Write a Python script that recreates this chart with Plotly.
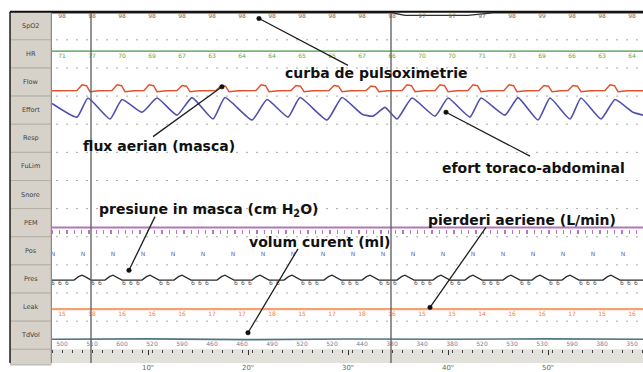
import plotly.graph_objects as go

W, H = 643, 372
X0PX = 52.0            # left edge of the trace panel (px)
TOP, ROWH = 12.0, 28.83  # first row top and row height (px)

# ---------------- data ----------------
channels = ["SpO2", "HR", "Flow", "Effort", "Resp", "FuLim", "Snore",
            "PEM", "Pos", "Pres", "Leak", "TdVol"]

# times (s) of the numeric read-outs printed under the traces
num_t = [1.4, 4.4, 7.4, 10.4, 13.4, 16.4, 19.4, 22.4, 25.4, 28.4,
         31.4, 34.4, 37.4, 40.4, 43.4, 46.4, 49.4, 52.4, 55.4, 58.4]
spo2_num = [98, 98, 98, 98, 98, 98, 98, 98, 98, 98,
            98, 98, 97, 97, 97, 98, 99, 98, 98, 98]
hr_num = [71, 77, 70, 69, 67, 63, 64, 64, 65, 65,
          67, 66, 70, 70, 71, 73, 69, 66, 63, 64]
leak_num = [15, 18, 16, 16, 16, 17, 17, 18, 15, 17,
            18, 16, 15, 15, 14, 16, 16, 17, 15, 16]
tdvol_num = [500, 510, 600, 520, 590, 460, 460, 490, 520, 520,
             440, 380, 340, 380, 520, 530, 530, 590, 380, 350]

pos_t = [0.5, 3.5, 6.5, 9.5, 12.5, 15.5, 18.5, 21.5, 24.5, 27.5,
         30.5, 33.5, 36.5, 39.5, 42.5, 45.5, 48.5, 51.5, 54.5, 57.5]
pos_code = ["N"] * len(pos_t)

spo2_t = [0.4, 34.4, 35.7, 42.0, 43.2, 44.5, 59.5]
spo2_v = [98, 98, 97, 97, 97.5, 98, 98]

hr_t = [0.4, 8.0, 8.4, 30.0, 59.5]
hr_v = [70.4, 70.4, 70.0, 70.0, 70.3]

# airflow: time and amplitude (L/s) of each inspiratory bump
flow_peak_t = [3.5, 7.0, 10.2, 13.5, 17.4, 21.4, 24.9, 28.7,
               32.4, 36.0, 39.3, 42.6, 46.2, 49.7, 52.6, 56.3]
flow_peak_v = [0.5, 0.5, 0.5, 0.45, 0.45, 0.5, 0.45, 0.45,
               0.4, 0.5, 0.5, 0.5, 0.5, 0.45, 0.45, 0.5]

# thoraco-abdominal effort turning points (a.u.)
effort_t = [0.4, 2.9, 4.0, 6.2, 7.4, 9.4, 10.9, 12.9, 14.4, 16.5,
            17.7, 20.4, 21.9, 24.0, 25.2, 27.9, 29.4, 31.4, 32.5, 33.7,
            34.9, 36.4, 38.7, 40.0, 42.2, 43.3, 45.7, 47.0, 49.0, 50.2,
            52.2, 53.3, 55.3, 56.7, 58.5, 59.5]
effort_v = [0.6, -0.8, 1.15, -1.0, 1.0, -0.3, 1.15, -0.6, 1.2, -1.0,
            1.2, -1.1, 1.0, -0.8, 1.2, -1.1, 1.2, -0.5, -0.7, 0.2,
            -1.0, 1.15, -0.7, 1.15, -0.8, 1.15, -0.6, 1.2, -1.1, 1.15,
            -1.0, 1.15, -1.0, 1.0, -0.3, -0.6]

pem_t = [0.4, 59.5]
pem_v = [0.33, 0.33]

# mask pressure (cmH2O): EPAP baseline and IPAP bump times
pres_base = 6.0
pres_top = 7.0
pres_peak_t = [3.4, 6.5, 10.2, 13.4, 17.7, 21.2, 24.4, 28.4,
               32.2, 35.7, 39.3, 42.5, 46.3, 49.2, 52.2, 56.3]

leak_t = [0.4, 59.5]
leak_v = [16, 16]

tdvol_t = [0.4, 10.0, 20.0, 30.0, 40.0, 50.0, 59.5]
tdvol_v = [500, 520, 480, 510, 500, 520, 500]

time_ticks = [10, 20, 30, 40, 50]
time_labels = ['10"', '20"', '30"', '40"', '50"']
epoch_t = [4.3, 34.3]

notes = ["curba de pulsoximetrie", "flux aerian (masca)", "efort toraco-abdominal",
         "presiune in masca (cm H<sub>2</sub>O)", "volum curent (ml)",
         "pierderi aeriene (L/min)"]

# ---------------- helpers ----------------
def px(x):
    return x / W


def py(y):
    return 1 - y / H


def ydom(i):
    t = TOP + ROWH * i
    return [py(t + ROWH), py(t)]


row_ranges = [[87.6, 98.4], [0, 118], [-0.458, 1.94], [-1.53, 1.35],
              [0, 1], [0, 1], [0, 1], [0, 1], [0, 1],
              [3.34, 9.1], [7.5, 27.5], [0, 1400]]

# build waveform vertex tables from the read breath timings
flow_x, flow_y = [0.4], [0.0]
for tp, a in zip(flow_peak_t, flow_peak_v):
    flow_x += [tp - 0.6, tp - 0.1, tp + 0.35, tp + 0.7, tp + 1.6]
    flow_y += [0.02, a, 0.85 * a, -0.08, 0.0]
flow_x.append(59.5)
flow_y.append(0.0)

pres_x, pres_y = [0.4], [pres_base]
d = pres_top - pres_base
for tp in pres_peak_t:
    pres_x += [tp - 0.8, tp - 0.35, tp, tp + 0.4, tp + 0.9]
    pres_y += [pres_base, pres_base + 0.7 * d, pres_top, pres_base + 0.6 * d, pres_base]
pres_x.append(59.5)
pres_y.append(pres_base)

pres_lab_t = []
bounds = [-0.6] + pres_peak_t + [60.0]
for a, b in zip(bounds[:-1], bounds[1:]):
    for off in (1.1, 1.8, 2.5):
        if a + off < b - 0.8:
            pres_lab_t.append(a + off)

fig = go.Figure()

FONT = "DejaVu Sans"


def yname(i):
    return "y" if i == 0 else "y%d" % (i + 1)


def line(x, y, row, color, width, xa="x", shape="linear"):
    fig.add_trace(go.Scatter(x=x, y=y, mode="lines", xaxis=xa, yaxis=yname(row),
                             line=dict(color=color, width=width, shape=shape,
                                       smoothing=0.45 if shape == "spline" else None),
                             hoverinfo="skip", showlegend=False))


def texts(x, y, t, row, color, size=6):
    fig.add_trace(go.Scatter(x=x, y=y, mode="text", text=t, xaxis="x", yaxis=yname(row),
                             textfont=dict(family=FONT, size=size, color=color),
                             cliponaxis=False, hoverinfo="skip", showlegend=False))


line(spo2_t, spo2_v, 0, "#2e2e2e", 1.3)
texts(num_t, [96.5] * len(num_t), [str(v) for v in spo2_num], 0, "#6e6e6e")
line(hr_t, hr_v, 1, "#3f9a3f", 1.3)
texts(num_t, [47.6] * len(num_t), [str(v) for v in hr_num], 1, "#5aa85a")
line(flow_x, flow_y, 2, "#e2502c", 1.4)
line(effort_t, effort_v, 3, "#4e50b0", 1.6, shape="spline")
line(pem_t, pem_v, 7, "#b476bc", 2.2, xa="x2")
texts(pos_t, [0.364] * len(pos_t), pos_code, 8, "#5a68c4")
line(pres_x, pres_y, 9, "#2a2a2a", 1.3)
texts(pres_lab_t, [5.25] * len(pres_lab_t), ["6"] * len(pres_lab_t), 9, "#4a4a4a", 6)
line(leak_t, leak_v, 10, "#f2a274", 2.2)
texts(num_t, [12.5] * len(num_t), [str(v) for v in leak_num], 10, "#f07a5a")
line(tdvol_t, tdvol_v, 11, "#4f7486", 1.6)
texts(num_t, [243] * len(num_t), [str(v) for v in tdvol_num], 11, "#6a86a6")

layout = dict(
    width=W, height=H, autosize=False,
    margin=dict(l=0, r=0, t=0, b=0),
    paper_bgcolor="white", plot_bgcolor="white",
    showlegend=False,
    xaxis=dict(domain=[px(X0PX), 1], range=[0.4, 59.5], anchor="y12",
               showgrid=False, zeroline=False, showline=False,
               ticks="outside", ticklen=5, tickwidth=1, tickcolor="#333",
               tickvals=time_ticks, ticktext=time_labels, ticklabelstandoff=6,
               tickfont=dict(family=FONT, size=7, color="#666"),
               minor=dict(dtick=1, tick0=0.4, ticks="outside", ticklen=3,
                          tickcolor="#444", showgrid=False),
               fixedrange=True),
    xaxis2=dict(domain=[px(X0PX), 1], matches="x", anchor="free",
                position=py(234.3), side="bottom", showgrid=False, zeroline=False,
                showline=False, ticks="outside", ticklen=4, tickwidth=1.3,
                tickcolor="#b476bc", dtick=0.73, tick0=0.45, showticklabels=False,
                fixedrange=True),
)
for i in range(12):
    key = "yaxis" if i == 0 else "yaxis%d" % (i + 1)
    layout[key] = dict(domain=ydom(i), range=row_ranges[i], anchor="x",
                       showgrid=False, zeroline=False, showline=False,
                       showticklabels=False, ticks="", fixedrange=True)
fig.update_layout(**layout)

shapes = []
# bottom time band
shapes.append(dict(type="rect", xref="paper", yref="paper", x0=px(X0PX), x1=1,
                   y0=0, y1=py(358), fillcolor="#e3e1dc", line=dict(width=0), layer="below"))
# dotted row separators
for i in range(1, 12):
    yy = py(TOP + ROWH * i)
    shapes.append(dict(type="line", xref="paper", yref="paper", x0=px(X0PX + 4), x1=1,
                       y0=yy, y1=yy, line=dict(color="#a9a9a9", width=1, dash="2px,8px"),
                       layer="below"))
# label column cells
for i in range(13):
    t = TOP + ROWH * i
    b = min(t + ROWH, H + 2)
    shapes.append(dict(type="rect", xref="paper", yref="paper", x0=px(10.5), x1=px(51),
                       y0=py(b), y1=py(t), fillcolor="#d6d2ca",
                       line=dict(color="#b3afa7", width=1), layer="below"))
# panel edge
shapes.append(dict(type="line", xref="paper", yref="paper", x0=px(51.5), x1=px(51.5),
                   y0=0, y1=py(TOP), line=dict(color="#8a8a8a", width=1)))
# epoch markers
for e in epoch_t:
    shapes.append(dict(type="line", xref="x", yref="paper", x0=e, x1=e, y0=0, y1=py(TOP),
                       line=dict(color="#5a5a5a", width=1.3), layer="above"))
# outer black border
shapes.append(dict(type="line", xref="paper", yref="paper", x0=px(10), x1=1,
                   y0=py(TOP), y1=py(TOP), line=dict(color="#111", width=2)))
shapes.append(dict(type="line", xref="paper", yref="paper", x0=px(10), x1=px(10),
                   y0=0, y1=py(TOP), line=dict(color="#222", width=1.5)))

# callout pointers: line from label to a dot on the trace
arrows = [((348, 67), (259, 19)), ((153, 140), (222, 89)), ((530, 160), (446, 115)),
          ((155, 222), (129, 277)), ((298, 255), (248, 341)), ((486, 233), (430, 315))]
R = 2.3
for (tx, ty), (hx, hy) in arrows:
    shapes.append(dict(type="line", xref="paper", yref="paper", x0=px(tx), y0=py(ty),
                       x1=px(hx), y1=py(hy), line=dict(color="#1e1e1e", width=1.3),
                       layer="above"))
    shapes.append(dict(type="circle", xref="paper", yref="paper",
                       x0=px(hx - R), x1=px(hx + R), y0=py(hy + R), y1=py(hy - R),
                       fillcolor="#111", line=dict(color="#111", width=0.5), layer="above"))
fig.update_layout(shapes=shapes)

ann = []
for i, name in enumerate(channels):
    ann.append(dict(text=name, xref="paper", yref="paper", x=px(30.5),
                    y=py(TOP + ROWH * (i + 0.5)), showarrow=False,
                    font=dict(family=FONT, size=6.5, color="#3e3e3e"),
                    xanchor="center", yanchor="middle"))

note_xy = [(376, 75), (159, 150), (533, 172), (209, 215), (319, 248), (522, 225)]
for txt, (cx, cy) in zip(notes, note_xy):
    ann.append(dict(text="<b>%s</b>" % txt, xref="paper", yref="paper", x=px(cx), y=py(cy),
                    showarrow=False, xanchor="center", yanchor="middle",
                    font=dict(family=FONT, size=14, color="#111")))
fig.update_layout(annotations=ann)

fig.write_html("out.html", config={"displayModeBar": False, "staticPlot": True})

# remove the browser's default page margin so the figure sits at (0, 0)
with open("out.html", "r", encoding="utf-8") as f:
    html = f.read()
html = html.replace("<head>", "<head><style>html,body{margin:0;padding:0;overflow:hidden;}</style>", 1)
with open("out.html", "w", encoding="utf-8") as f:
    f.write(html)
